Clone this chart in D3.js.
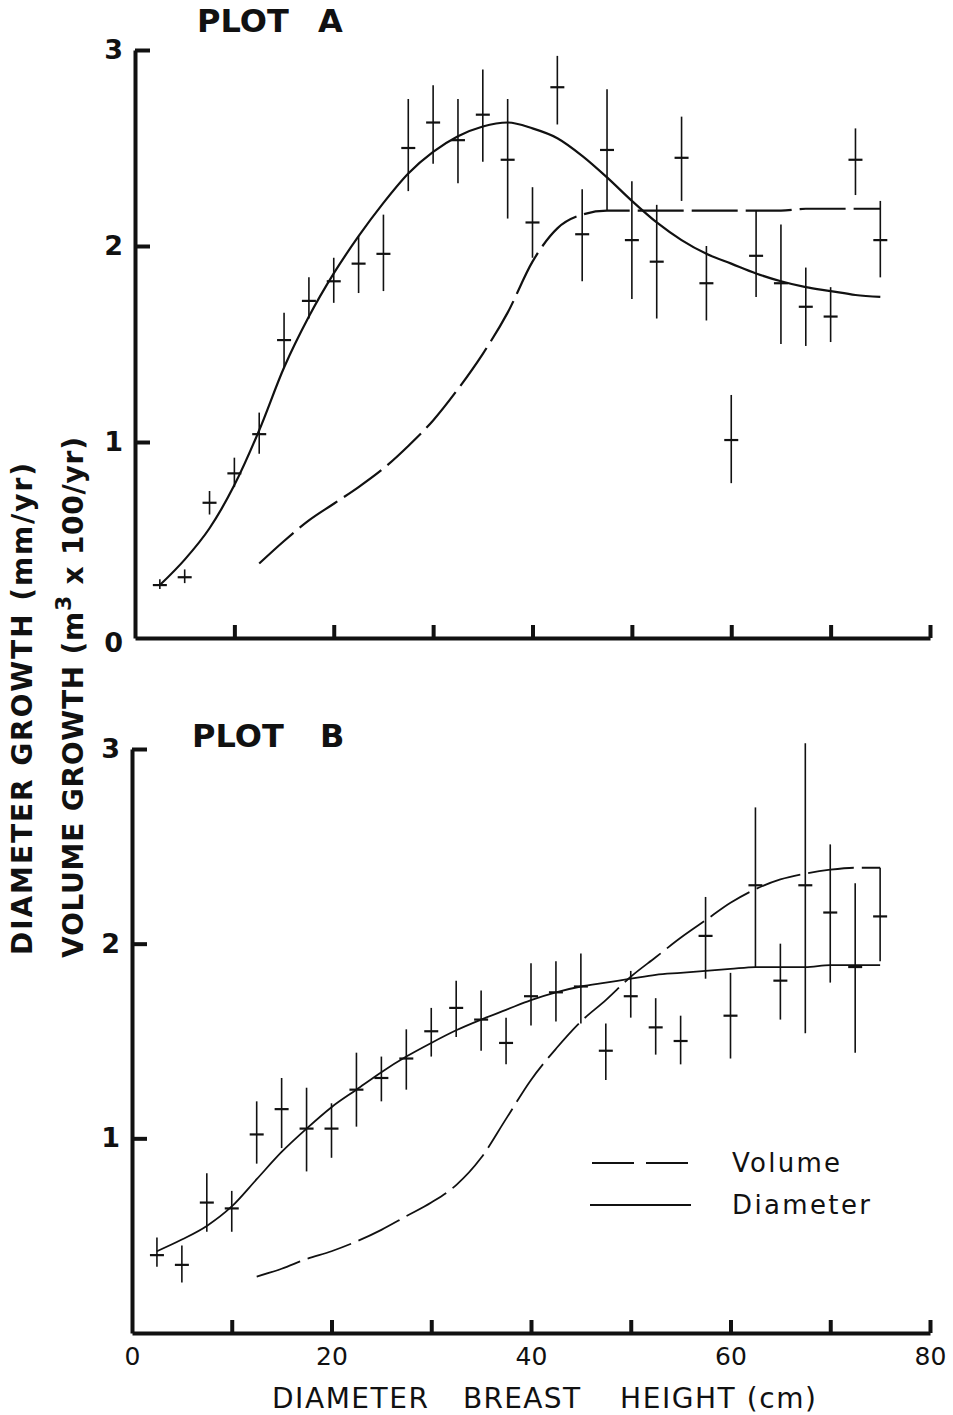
<!DOCTYPE html>
<html lang="en">
  <head>
    <meta charset="UTF-8" />
    <title>Diameter and volume growth</title>
    <script src="https://d3js.org/d3.v7.min.js"></script>
    <style>
      body { margin: 0; background: #fff; }
      svg text { font-family: "DejaVu Sans", sans-serif; fill: #111; }
      .axis path, .axis line { stroke: #111; stroke-width: 4px; }
      .labels path, .labels line { display: none; }
      .bar { stroke: #111; stroke-width: 1.6px; }
      .cap { stroke: #111; stroke-width: 2.2px; }
      .curve { fill: none; stroke: #111; }
    </style>
  </head>
  <body>
    <div id="chart"></div>
    <script>
      // tree size classes (cm)
      var dbh = [2.5, 5, 7.5, 10, 12.5, 15, 17.5, 20, 22.5, 25, 27.5, 30, 32.5, 35, 37.5,
                 40, 42.5, 45, 47.5, 50, 52.5, 55, 57.5, 60, 62.5, 65, 67.5, 70, 72.5, 75];

      // plot A: observed diameter growth, error bar ends
      var obsA  = [0.27, 0.31, 0.69, 0.84, 1.04, 1.52, 1.72, 1.82, 1.91, 1.96, 2.50, 2.63, 2.54, 2.67, 2.44,
                   2.12, 2.81, 2.06, 2.49, 2.03, 1.92, 2.45, 1.81, 1.01, 1.95, 1.81, 1.69, 1.64, 2.44, 2.03];
      var lowA  = [0.25, 0.28, 0.63, 0.77, 0.94, 1.38, 1.63, 1.71, 1.76, 1.77, 2.28, 2.42, 2.32, 2.43, 2.14,
                   1.94, 2.62, 1.82, 2.18, 1.73, 1.63, 2.23, 1.62, 0.79, 1.74, 1.50, 1.49, 1.51, 2.26, 1.84];
      var highA = [0.30, 0.35, 0.75, 0.92, 1.15, 1.66, 1.84, 1.94, 2.05, 2.16, 2.75, 2.82, 2.75, 2.90, 2.75,
                   2.30, 2.97, 2.29, 2.80, 2.33, 2.21, 2.66, 2.00, 1.24, 2.18, 2.11, 1.89, 1.79, 2.60, 2.23];
      // plot A: fitted diameter curve (on dbh)
      var fitDiamA = [0.27, 0.40, 0.56, 0.78, 1.06, 1.38, 1.64, 1.86, 2.05, 2.22, 2.37, 2.48, 2.56, 2.61, 2.63,
                      2.60, 2.55, 2.46, 2.35, 2.23, 2.12, 2.03, 1.96, 1.91, 1.86, 1.82, 1.79, 1.77, 1.75, 1.74];

      // plot B
      var obsB  = [0.40, 0.35, 0.67, 0.64, 1.02, 1.15, 1.05, 1.05, 1.25, 1.31, 1.41, 1.55, 1.67, 1.61, 1.49,
                   1.73, 1.75, 1.78, 1.45, 1.73, 1.57, 1.50, 2.04, 1.63, 2.30, 1.81, 2.30, 2.16, 1.88, 2.14];
      var lowB  = [0.34, 0.26, 0.52, 0.52, 0.87, 0.95, 0.83, 0.90, 1.06, 1.19, 1.25, 1.42, 1.52, 1.45, 1.38,
                   1.58, 1.60, 1.59, 1.30, 1.62, 1.43, 1.38, 1.82, 1.41, 1.88, 1.61, 1.54, 1.80, 1.44, 1.91];
      var highB = [0.49, 0.45, 0.82, 0.73, 1.19, 1.31, 1.26, 1.18, 1.44, 1.42, 1.56, 1.67, 1.81, 1.76, 1.62,
                   1.90, 1.91, 1.95, 1.59, 1.86, 1.72, 1.63, 2.24, 1.85, 2.70, 2.00, 3.03, 2.51, 2.31, 2.39];
      var fitDiamB = [0.42, 0.48, 0.55, 0.65, 0.79, 0.93, 1.05, 1.16, 1.25, 1.34, 1.42, 1.49, 1.555, 1.61, 1.66,
                      1.71, 1.75, 1.78, 1.80, 1.82, 1.84, 1.85, 1.86, 1.87, 1.88, 1.88, 1.88, 1.89, 1.89, 1.89];

      // fitted volume curves start at 12.5 cm
      var volDbh = [12.5, 15, 17.5, 20, 22.5, 25, 27.5, 30, 32.5, 35, 37.5, 40, 42.5, 45, 47.5,
                    50, 52.5, 55, 57.5, 60, 62.5, 65, 67.5, 70, 72.5, 75];
      var fitVolA = [0.38, 0.495, 0.60, 0.685, 0.77, 0.865, 0.98, 1.11, 1.27, 1.45, 1.66, 1.92, 2.09, 2.16, 2.18,
                     2.18, 2.18, 2.18, 2.18, 2.18, 2.18, 2.18, 2.19, 2.19, 2.19, 2.19];
      var fitVolB = [0.29, 0.33, 0.38, 0.42, 0.47, 0.53, 0.60, 0.67, 0.76, 0.90, 1.10, 1.30, 1.46, 1.60, 1.71,
                     1.83, 1.93, 2.03, 2.12, 2.21, 2.28, 2.33, 2.36, 2.38, 2.39, 2.39];

      var xTicks = [10, 20, 30, 40, 50, 60, 70, 80];
      var xLabels = [0, 20, 40, 60, 80];
      var legendNames = ["Volume", "Diameter"];

      var W = 953, H = 1415;
      var svg = d3.select("#chart").append("svg").attr("width", W).attr("height", H);

      var panels = [
        { name: "A", obs: obsA, low: lowA, high: highA, diam: fitDiamA, vol: fitVolA,
          xr: [135, 930], yr: [638, 50], yLabels: [0, 1, 2, 3], xLab: false,
          curveW: 2.2, title: [197, 318, 32] },
        { name: "B", obs: obsB, low: lowB, high: highB, diam: fitDiamB, vol: fitVolB,
          xr: [132, 930], yr: [1333, 749], yLabels: [1, 2, 3], xLab: true,
          curveW: 1.8, title: [192, 320, 747] }
      ];

      panels.forEach(function (p) {
        var x = d3.scaleLinear().domain([0, 80]).range(p.xr);
        var y = d3.scaleLinear().domain([0, 3]).range(p.yr);
        var g = svg.append("g");

        // axes with inward ticks
        g.append("g").attr("class", "axis")
          .attr("transform", "translate(0," + y(0) + ")")
          .call(d3.axisBottom(x).tickValues(xTicks).tickSizeInner(-13).tickSizeOuter(0).tickFormat(""));
        g.append("g").attr("class", "axis")
          .attr("transform", "translate(" + x(0) + ",0)")
          .call(d3.axisLeft(y).tickValues([1, 2, 3]).tickSizeInner(-15).tickSizeOuter(0).tickFormat(""));

        var yl = g.append("g").attr("class", "labels")
          .attr("transform", "translate(" + x(0) + ",0)")
          .call(d3.axisLeft(y).tickValues(p.yLabels).tickSize(0).tickPadding(12).tickFormat(d3.format("d")));
        yl.selectAll("text").style("font-size", "27px").style("font-weight", "bold")
          .attr("font-family", null).attr("fill", null);
        yl.selectAll(".tick").filter(function (d) { return d === 0; }).select("text").attr("dy", "0.5em");

        if (p.xLab) {
          var xl = g.append("g").attr("class", "labels")
            .attr("transform", "translate(0," + y(0) + ")")
            .call(d3.axisBottom(x).tickValues(xLabels).tickSize(0).tickPadding(14).tickFormat(d3.format("d")));
          xl.selectAll("text").style("font-size", "25px").attr("font-family", null).attr("fill", null);
        }

        // title
        g.append("text").attr("x", p.title[0]).attr("y", p.title[2])
          .style("font-size", "32px").style("font-weight", "bold").text("PLOT");
        g.append("text").attr("x", p.title[1]).attr("y", p.title[2])
          .style("font-size", "32px").style("font-weight", "bold").text(p.name);

        // fitted curves
        var line = d3.line().curve(d3.curveMonotoneX)
          .x(function (d) { return x(d[0]); }).y(function (d) { return y(d[1]); });
        g.append("path").attr("class", "curve")
          .attr("d", line(d3.zip(dbh, p.diam)))
          .style("stroke-width", p.curveW);
        g.append("path").attr("class", "curve")
          .attr("d", line(d3.zip(volDbh, p.vol)))
          .style("stroke-width", p.curveW)
          .style("stroke-dasharray", "46 8");

        // error bars
        var pts = dbh.map(function (d, i) { return { x: d, v: p.obs[i], lo: p.low[i], hi: p.high[i] }; });
        g.selectAll(".bar").data(pts).enter().append("line").attr("class", "bar")
          .attr("x1", function (d) { return x(d.x); }).attr("x2", function (d) { return x(d.x); })
          .attr("y1", function (d) { return y(d.lo); }).attr("y2", function (d) { return y(d.hi); });
        g.selectAll(".cap").data(pts).enter().append("line").attr("class", "cap")
          .attr("x1", function (d) { return x(d.x) - 7; }).attr("x2", function (d) { return x(d.x) + 7; })
          .attr("y1", function (d) { return y(d.v); }).attr("y2", function (d) { return y(d.v); });

        if (p.name === "B") {
          // legend
          var lg = g.append("g");
          lg.append("line").attr("x1", 592).attr("x2", 691).attr("y1", 1163).attr("y2", 1163)
            .attr("class", "curve").style("stroke-width", 1.8).style("stroke-dasharray", "42 12");
          lg.append("line").attr("x1", 590).attr("x2", 691).attr("y1", 1205).attr("y2", 1205)
            .attr("class", "curve").style("stroke-width", 1.8);
          lg.selectAll("text").data(legendNames).enter().append("text")
            .attr("x", 732).attr("y", function (d, i) { return 1172 + i * 42; })
            .attr("textLength", function (d, i) { return i === 0 ? 108 : 138; })
            .style("font-size", "26px").text(function (d) { return d; });
        }
      });

      // axis titles
      var xTitle = [["DIAMETER", 272, 156], ["BREAST", 463, 117], ["HEIGHT (cm)", 620, 196]];
      svg.selectAll(".xtitle").data(xTitle).enter().append("text")
        .attr("x", function (d) { return d[1]; }).attr("y", 1408)
        .attr("textLength", function (d) { return d[2]; })
        .style("font-size", "28px").text(function (d) { return d[0]; });

      svg.append("text").attr("transform", "translate(32,955) rotate(-90)")
        .attr("textLength", 492).attr("lengthAdjust", "spacing")
        .style("font-size", "28px").style("font-weight", "bold").text("DIAMETER  GROWTH (mm/yr)");

      var vt = svg.append("text").attr("transform", "translate(83,958) rotate(-90)")
        .attr("textLength", 521).attr("lengthAdjust", "spacing")
        .style("font-size", "28px").style("font-weight", "bold");
      vt.append("tspan").text("VOLUME  GROWTH (m");
      vt.append("tspan").attr("dy", -12).style("font-size", "22px").text("3");
      vt.append("tspan").attr("dy", 12).text(" x 100/yr)");
    </script>
  </body>
</html>
